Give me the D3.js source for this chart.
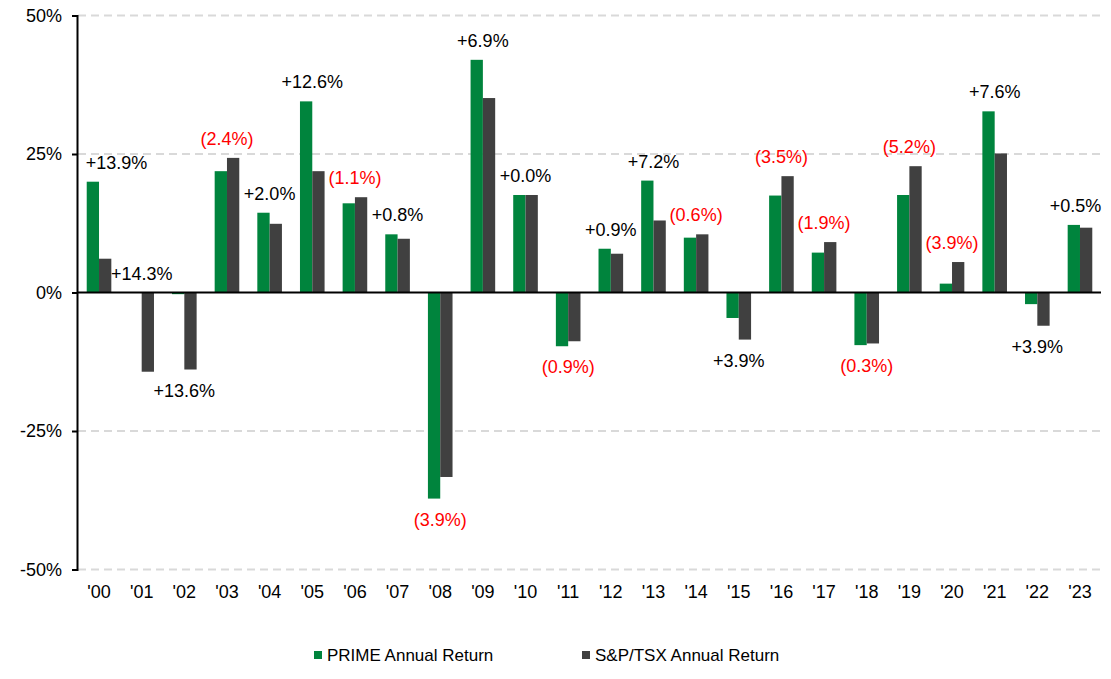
<!DOCTYPE html>
<html><head><meta charset="utf-8">
<script src="https://cdn.jsdelivr.net/npm/d3@7"></script>
<style>
body{margin:0;background:#fff;}
svg{display:block;font-family:"Liberation Sans",Arial,sans-serif;}
</style></head>
<body><svg id="c" width="1111" height="679"></svg>
<script>
const years = ["'00","'01","'02","'03","'04","'05","'06","'07","'08","'09","'10","'11","'12","'13","'14","'15","'16","'17","'18","'19","'20","'21","'22","'23"];
const primeReturn = [20.0, 0.0, -0.3, 21.9, 14.4, 34.5, 16.1, 10.5, -37.2, 42.0, 17.6, -9.7, 7.9, 20.2, 9.9, -4.6, 17.5, 7.2, -9.5, 17.6, 1.6, 32.7, -2.1, 12.2];
const tsxReturn = [6.1, -14.3, -13.9, 24.3, 12.4, 21.9, 17.2, 9.7, -33.3, 35.1, 17.6, -8.8, 7.0, 13.0, 10.5, -8.5, 21.0, 9.1, -9.2, 22.8, 5.5, 25.1, -6.0, 11.7];
const spreadLabels = ["+13.9%","+14.3%","+13.6%","(2.4%)","+2.0%","+12.6%","(1.1%)","+0.8%","(3.9%)","+6.9%","+0.0%","(0.9%)","+0.9%","+7.2%","(0.6%)","+3.9%","(3.5%)","(1.9%)","(0.3%)","(5.2%)","(3.9%)","+7.6%","+3.9%","+0.5%"];
const yTicks = [-50, -25, 0, 25, 50];
const seriesNames = ["PRIME Annual Return", "S&P/TSX Annual Return"];
const seriesColors = ["#00843d", "#404040"];

const svg = d3.select("#c");
const x = d3.scaleBand().domain(years).range([77.7, 1101.3]).paddingInner(0.423).paddingOuter(0.2115);
const x1 = d3.scaleBand().domain([0,1]).range([0, x.bandwidth()]);
const y = d3.scaleLinear().domain([-50, 50]).range([569.5, 15.5]);

// gridlines
svg.append("g").selectAll("line").data(yTicks.filter(d => d !== 0)).join("line")
  .attr("x1", 78).attr("x2", 1101).attr("y1", d => y(d)).attr("y2", d => y(d))
  .attr("stroke", "#d9d9d9").attr("stroke-width", 2).attr("stroke-dasharray", "8,5");

// bars
const rows = years.map((yr, i) => ({yr, vals: [primeReturn[i], tsxReturn[i]], label: spreadLabels[i]}));
const g = svg.append("g");
rows.forEach(r => {
  r.vals.forEach((v, k) => {
    g.append("rect")
      .attr("x", x(r.yr) + x1(k))
      .attr("width", x1.bandwidth())
      .attr("y", y(Math.max(0, v)))
      .attr("height", Math.abs(y(v) - y(0)))
      .attr("fill", seriesColors[k]);
  });
});

// zero line
svg.append("line").attr("x1", 77).attr("x2", 1101).attr("y1", y(0)).attr("y2", y(0))
  .attr("stroke", "#000").attr("stroke-width", 2);

// y axis
const ya = svg.append("g").attr("transform", "translate(77,0)")
  .call(d3.axisLeft(y).tickValues(yTicks).tickFormat(d => d + "%").tickSize(5).tickSizeOuter(5).tickPadding(10));
ya.select(".domain").attr("stroke", "#000").attr("stroke-width", 2);
ya.selectAll(".tick line").attr("stroke", "#000").attr("stroke-width", 2);
ya.selectAll("text").attr("font-size", 18).attr("fill", "#000").attr("font-family", "Liberation Sans, Arial, sans-serif");

// x axis labels
const xa = svg.append("g").attr("transform", "translate(0,570)")
  .call(d3.axisBottom(x).tickSize(0).tickPadding(15));
xa.select(".domain").remove();
xa.selectAll("text").attr("font-size", 18).attr("fill", "#000").attr("font-family", "Liberation Sans, Arial, sans-serif");

// spread labels
const lbl = svg.append("g").selectAll("text").data(rows).join("text")
  .attr("y", d => {
    const mx = Math.max(...d.vals), mn = Math.min(...d.vals);
    return mx >= 0 ? y(mx) - 19 : y(mn) + 21;
  })
  .attr("text-anchor", "middle").attr("dominant-baseline", "central")
  .attr("font-size", 18)
  .attr("fill", d => d.label.startsWith("(") ? "#ff0000" : "#000")
  .text(d => d.label);
lbl.attr("x", function(d) {
  const half = this.getComputedTextLength() / 2;
  const c = x(d.yr) + x.bandwidth() / 2;
  const lo = x.range()[0] + 8 + half, hi = x.range()[1] - half;
  return Math.min(hi, Math.max(lo, c));
});

// legend
const legendX = [314, 582];
const lg = svg.append("g");
seriesNames.forEach((n, k) => {
  lg.append("rect").attr("x", legendX[k]).attr("y", 651).attr("width", 8).attr("height", 8).attr("fill", seriesColors[k]);
  lg.append("text").attr("x", legendX[k] + 13).attr("y", 655).attr("dominant-baseline", "central")
    .attr("font-size", 17).attr("fill", "#000").text(n);
});
</script></body></html>
